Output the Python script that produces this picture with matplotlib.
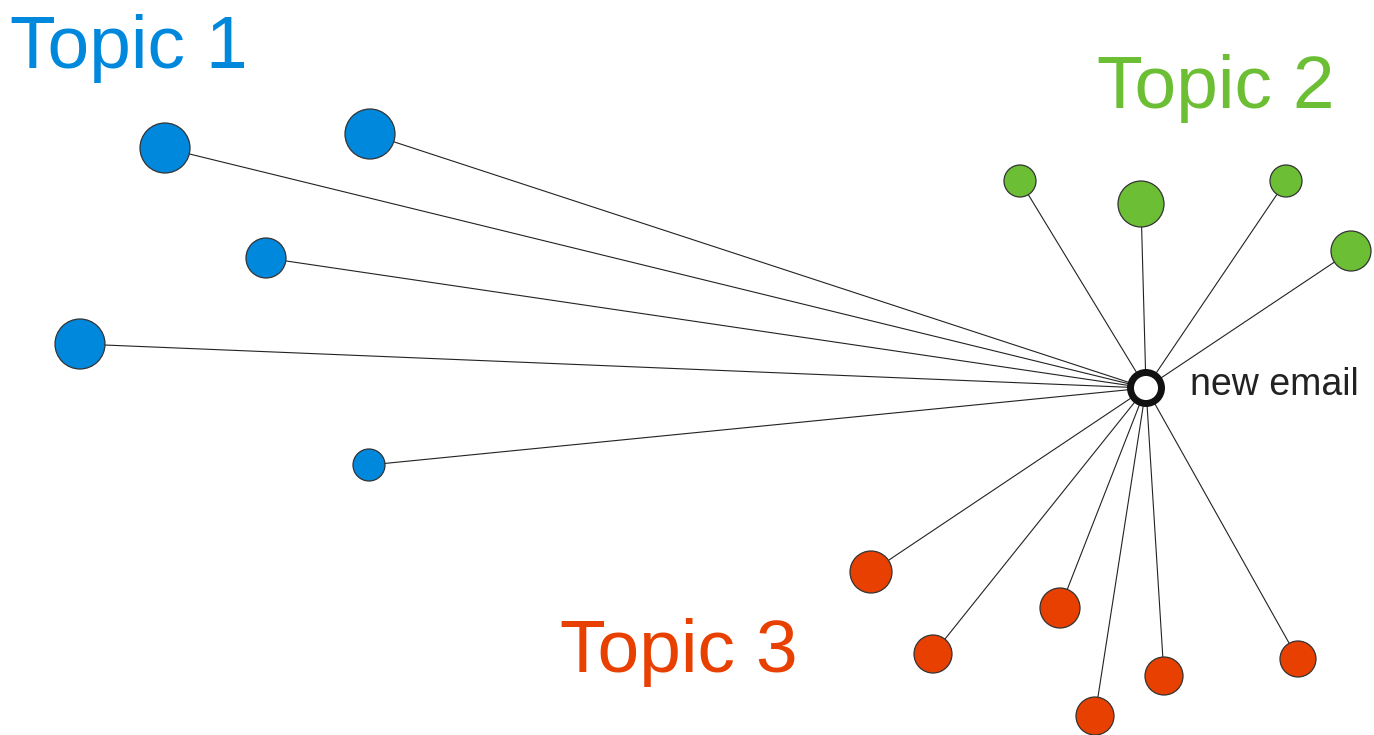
import matplotlib
matplotlib.use("Agg")
import matplotlib.pyplot as plt
from matplotlib.patches import Circle

# node positions (pixel coords, y down) and radii
center = (1146, 388)

topic1_x = [165, 370, 266, 80, 369]
topic1_y = [148, 134, 258, 344, 465]
topic1_r = [25, 25, 20, 25, 16]

topic2_x = [1020, 1141, 1286, 1351]
topic2_y = [181, 204, 181, 251]
topic2_r = [16, 23, 16, 20]

topic3_x = [871, 933, 1060, 1095, 1164, 1298]
topic3_y = [572, 654, 608, 716, 676, 659]
topic3_r = [21, 19, 20, 19, 19, 18]

labels = ["Topic 1", "Topic 2", "Topic 3"]
colors = ["#0088dd", "#6cbf35", "#e84000"]
label_pos = [(10, 68), (1097, 108), (560, 672)]

plt.rcParams['font.family'] = ['Liberation Sans', 'DejaVu Sans']

fig = plt.figure(figsize=(13.74, 7.35), dpi=100)
ax = fig.add_axes([0, 0, 1, 1])
ax.set_xlim(0, 1374)
ax.set_ylim(735, 0)
ax.set_aspect('equal')
ax.axis('off')

groups = [(topic1_x, topic1_y, topic1_r), (topic2_x, topic2_y, topic2_r),
          (topic3_x, topic3_y, topic3_r)]

for (xs, ys, rs), col in zip(groups, colors):
    for x, y, r in zip(xs, ys, rs):
        ax.plot([center[0], x], [center[1], y], color='#222222', lw=0.8, zorder=1)
        ax.add_patch(Circle((x, y), r, facecolor=col, edgecolor='#333333',
                            lw=0.9, zorder=2))

# the new email node
ax.add_patch(Circle(center, 15.5, facecolor='white', edgecolor='#111111',
                    lw=5, zorder=3))
ax.text(1190, 395, "new email", fontsize=27, color='#222222',
        ha='left', va='baseline')

for lab, col, (tx, ty) in zip(labels, colors, label_pos):
    ax.text(tx, ty, lab, fontsize=54, color=col, ha='left', va='baseline')

fig.savefig("out.png", dpi=100)
